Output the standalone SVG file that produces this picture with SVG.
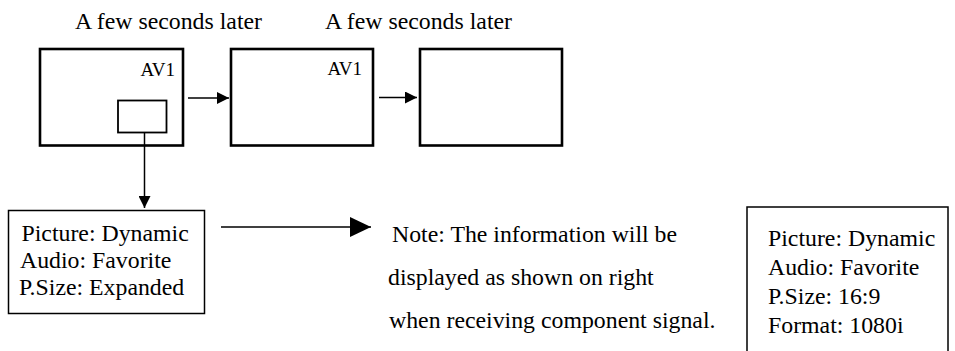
<svg xmlns="http://www.w3.org/2000/svg" width="955" height="351" viewBox="0 0 955 351" font-family="'Liberation Serif', 'Times New Roman', serif">
  <style>
    text { font-family: "Liberation Serif", "Times New Roman", serif; fill: #000; }
    .lbl { font-size: 23.8px; }
    .av { font-size: 19px; text-anchor: end; }
    .screen { fill: #fff; stroke: #000; stroke-width: 2.6; }
    .inner { fill: #fff; stroke: #000; stroke-width: 1.8; }
    .info { fill: #fff; stroke: #000; stroke-width: 1.5; }
    .conn { stroke: #000; stroke-width: 1.5; fill: none; }
  </style>
  <defs>
    <marker id="headS" markerUnits="userSpaceOnUse" viewBox="0 0 12 12" refX="12" refY="6" markerWidth="12" markerHeight="12" orient="auto">
      <path d="M0,0 L12,6 L0,12 z" fill="#000"/>
    </marker>
    <marker id="headL" markerUnits="userSpaceOnUse" viewBox="0 0 21 20" refX="21" refY="10" markerWidth="21" markerHeight="20" orient="auto">
      <path d="M0,0 L21,10 L0,20 z" fill="#000"/>
    </marker>
  </defs>

  <text class="lbl" x="75" y="29">A few seconds later</text>
  <text class="lbl" x="325" y="29">A few seconds later</text>

  <g id="screen1">
    <rect class="screen" x="40" y="49" width="143" height="96.5"/>
    <text class="av" x="175" y="76">AV1</text>
  </g>
  <g id="osd-small">
    <rect class="inner" x="118" y="100.5" width="48.5" height="32"/>
  </g>
  <g id="screen2">
    <rect class="screen" x="231" y="49" width="142" height="96.5"/>
    <text class="av" x="362" y="75">AV1</text>
  </g>
  <g id="screen3">
    <rect class="screen" x="420" y="49" width="142" height="96.5"/>
  </g>

  <g id="info-left">
    <rect class="info" x="8.5" y="210.5" width="196" height="103"/>
    <text class="lbl" x="21.5" y="241">Picture: Dynamic</text>
    <text class="lbl" x="20" y="268">Audio: Favorite</text>
    <text class="lbl" x="19" y="295">P.Size: Expanded</text>
  </g>

  <g id="note">
    <text class="lbl" x="392" y="242">Note: The information will be</text>
    <text class="lbl" x="388" y="285">displayed as shown on right</text>
    <text class="lbl" x="389" y="328">when receiving component signal.</text>
  </g>

  <g id="info-right">
    <rect class="info" x="747" y="207" width="201" height="150"/>
    <text class="lbl" x="768" y="246">Picture: Dynamic</text>
    <text class="lbl" x="768" y="274.5">Audio: Favorite</text>
    <text class="lbl" x="768" y="303.5">P.Size: 16:9</text>
    <text class="lbl" x="768" y="332.5">Format: 1080i</text>
  </g>

  <g id="connectors">
    <line class="conn" x1="188" y1="98" x2="229" y2="98" marker-end="url(#headS)"/>
    <line class="conn" x1="379" y1="97.5" x2="417" y2="97.5" marker-end="url(#headS)"/>
    <line class="conn" x1="144.5" y1="133" x2="144.5" y2="208" marker-end="url(#headS)"/>
    <line class="conn" x1="221" y1="227" x2="371" y2="227" marker-end="url(#headL)"/>
  </g>
</svg>
